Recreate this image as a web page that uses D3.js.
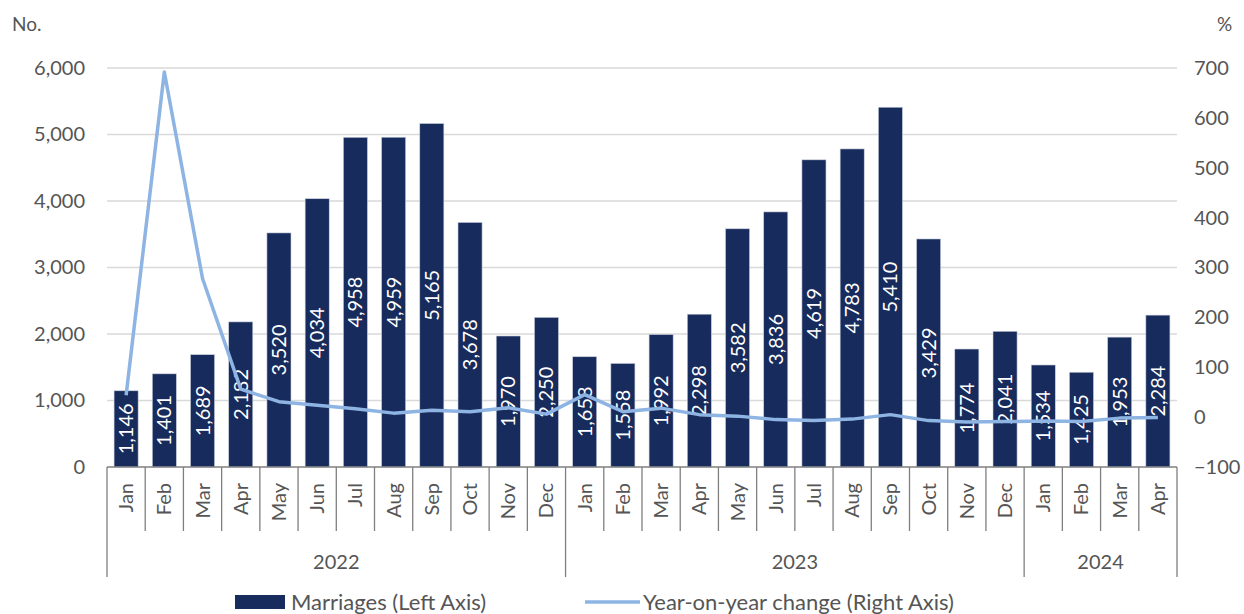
<!DOCTYPE html>
<html>
<head>
<meta charset="utf-8">
<script src="https://cdn.jsdelivr.net/npm/d3@7"></script>
<style>
  body { margin: 0; background: #fff; }
  svg { display: block; font-family: Lato, "Liberation Sans", sans-serif; }
</style>
</head>
<body>
<div id="chart"></div>
<script>
// Chart data
const years = ["2022", "2023", "2024"];
const monthsPerYear = [12, 12, 4];
const months = ["Jan","Feb","Mar","Apr","May","Jun","Jul","Aug","Sep","Oct","Nov","Dec",
                "Jan","Feb","Mar","Apr","May","Jun","Jul","Aug","Sep","Oct","Nov","Dec",
                "Jan","Feb","Mar","Apr"];
const marriages = [1146, 1401, 1689, 2182, 3520, 4034, 4958, 4959, 5165, 3678, 1970, 2250,
                   1658, 1558, 1992, 2298, 3582, 3836, 4619, 4783, 5410, 3429, 1774, 2041,
                   1534, 1425, 1953, 2284];
const yoyChange = [44, 692, 278, 56, 31, 24, 17, 8, 14, 11, 19, 6,
                   45, 11, 18, 5, 2, -5, -7, -4, 5, -7, -10, -9,
                   -8, -9, -2, -1];
const leftTicks = [0, 1000, 2000, 3000, 4000, 5000, 6000];
const rightTicks = [-100, 0, 100, 200, 300, 400, 500, 600, 700];

const W = 1244, H = 614;
const plot = {left: 107, right: 1177, top: 68, bottom: 467};
const barColor = "#172b5c", lineColor = "#8db4e3", textColor = "#555555";

const svg = d3.select("#chart").append("svg")
    .attr("width", W)
    .attr("height", H);

const keys = months.map((m, i) => i);
const x = d3.scaleBand()
    .domain(keys)
    .range([plot.left, plot.right])
    .paddingInner(0.37)
    .paddingOuter(0.185);
const y = d3.scaleLinear().domain([0, 6000]).range([plot.bottom, plot.top]);
const y2 = d3.scaleLinear().domain([-100, 700]).range([plot.bottom, plot.top]);

// gridlines
svg.append("g")
  .selectAll("line")
  .data(leftTicks.filter(d => d > 0))
  .enter().append("line")
    .attr("x1", plot.left).attr("x2", plot.right)
    .attr("y1", d => y(d)).attr("y2", d => y(d))
    .attr("stroke", "#d9d9d9").attr("stroke-width", 1.3);

// left axis labels
const leftAxis = svg.append("g")
    .attr("transform", `translate(${plot.left},0)`)
    .call(d3.axisLeft(y).tickValues(leftTicks).tickSize(0).tickPadding(22).tickFormat(d3.format(",")));
leftAxis.select(".domain").remove();
leftAxis.selectAll("text").attr("font-size", 20).attr("fill", textColor).style("font-family", "Lato, sans-serif");

// right axis labels
const rightAxis = svg.append("g")
    .attr("transform", `translate(${plot.right},0)`)
    .call(d3.axisRight(y2).tickValues(rightTicks).tickSize(0).tickPadding(17));
rightAxis.select(".domain").remove();
rightAxis.selectAll("text").attr("font-size", 20).attr("fill", textColor).style("font-family", "Lato, sans-serif");

// axis unit labels
svg.append("text").attr("x", 12).attr("y", 31).attr("font-size", 19).attr("fill", textColor).text("No.");
svg.append("text").attr("x", 1217).attr("y", 31).attr("font-size", 19).attr("fill", textColor).text("%");

// bars
svg.append("g")
  .selectAll("rect")
  .data(marriages)
  .enter().append("rect")
    .attr("x", (d, i) => x(i))
    .attr("width", x.bandwidth())
    .attr("y", d => y(d))
    .attr("height", d => y(0) - y(d))
    .attr("fill", barColor)
    .attr("stroke", "#c9d0dc").attr("stroke-width", 0.6);

// bar value labels
svg.append("g")
  .selectAll("text")
  .data(marriages)
  .enter().append("text")
    .attr("transform", (d, i) => `translate(${x(i) + x.bandwidth() / 2},${(y(d) + y(0)) / 2}) rotate(-90)`)
    .attr("text-anchor", "middle")
    .attr("dy", "0.35em")
    .attr("font-size", 20)
    .attr("fill", "#fff")
    .text(d => d3.format(",")(d));

// year-on-year line
const line = d3.line()
    .x((d, i) => x(i) + x.bandwidth() / 2)
    .y(d => y2(d));
svg.append("path")
    .datum(yoyChange)
    .attr("d", line)
    .attr("fill", "none")
    .attr("stroke", lineColor)
    .attr("stroke-width", 3.5)
    .attr("stroke-linejoin", "round");

// category axis
const step = x.step();
const axisG = svg.append("g").attr("stroke", "#7f7f7f").attr("stroke-width", 1.3);
axisG.append("line")
    .attr("x1", plot.left).attr("x2", plot.right)
    .attr("y1", plot.bottom).attr("y2", plot.bottom);
const boundaries = d3.range(months.length + 1).map(i => plot.left + i * step);
let yearStarts = [0];
monthsPerYear.forEach((n, i) => yearStarts.push(yearStarts[i] + n));
axisG.selectAll(".tick-line")
  .data(boundaries)
  .enter().append("line")
    .attr("x1", d => d).attr("x2", d => d)
    .attr("y1", plot.bottom)
    .attr("y2", (d, i) => yearStarts.includes(i) ? 577 : 531);

// month labels
svg.append("g")
  .selectAll("text")
  .data(months)
  .enter().append("text")
    .attr("transform", (d, i) => `translate(${x(i) + x.bandwidth() / 2},483) rotate(-90)`)
    .attr("text-anchor", "end")
    .attr("dy", "0.35em")
    .attr("font-size", 20)
    .attr("fill", textColor)
    .text(d => d);

// year labels
svg.append("g")
  .selectAll("text")
  .data(years)
  .enter().append("text")
    .attr("x", (d, i) => (boundaries[yearStarts[i]] + boundaries[yearStarts[i + 1]]) / 2)
    .attr("y", 569)
    .attr("text-anchor", "middle")
    .attr("font-size", 20)
    .attr("fill", textColor)
    .text(d => d);

// legend
const legend = svg.append("g");
legend.append("rect").attr("x", 235).attr("y", 595).attr("width", 50).attr("height", 14).attr("fill", barColor);
legend.append("text").attr("x", 291).attr("y", 610).attr("font-size", 22).attr("fill", textColor).text("Marriages (Left Axis)");
legend.append("line").attr("x1", 585).attr("x2", 640).attr("y1", 602).attr("y2", 602)
    .attr("stroke", lineColor).attr("stroke-width", 3.5);
legend.append("text").attr("x", 643).attr("y", 610).attr("font-size", 22).attr("fill", textColor).text("Year-on-year change (Right Axis)");
</script>
</body>
</html>
